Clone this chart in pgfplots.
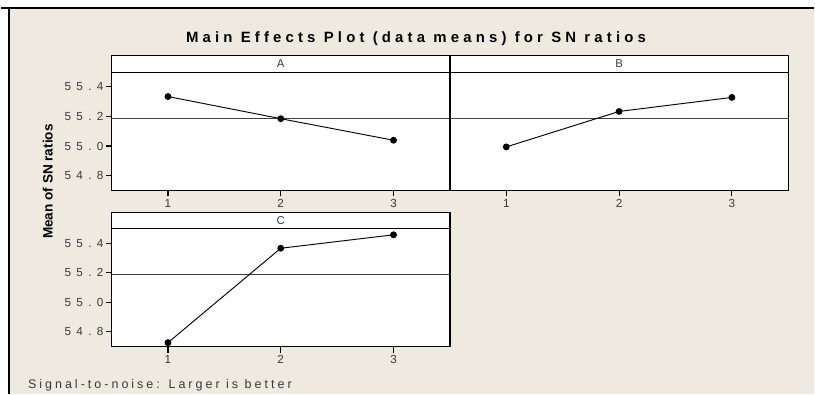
\documentclass[border=0pt]{standalone}
\usepackage{pgfplots}
\pgfplotsset{compat=1.18}
\usepackage{fontspec}
\setmainfont{Liberation Sans}
\newfontfamily\tickfont[LetterSpace=45]{Liberation Sans}
\newfontfamily\titlefont[LetterSpace=28]{Liberation Sans}
\newfontfamily\notefont[LetterSpace=24]{Liberation Sans}
\definecolor{bg}{HTML}{EEEAE0}
\definecolor{tickgray}{HTML}{3A3A3A}

\pgfplotstableread{
x y
1 55.335
2 55.185
3 55.039
}\dataA
\pgfplotstableread{
x y
1 54.994
2 55.234
3 55.329
}\dataB
\pgfplotstableread{
x y
1 54.727
2 55.366
3 55.457
}\dataC
\pgfplotstableread{
x y
0.5 55.186
3.5 55.186
}\meanline

\pgfplotsset{
  panel/.style={
    scale only axis, width=254.25pt, height=88.8pt,
    xmin=0.5, xmax=3.5, ymin=54.7, ymax=55.5,
    xtick={1,2,3}, ytick={54.8,55.0,55.2,55.4},
    tick align=outside, tick pos=left, major tick length=4.5pt,
    axis line style={line width=0.9pt, black},
    every tick/.style={line width=0.8pt, black},
    axis background/.style={fill=white},
    /pgf/number format/assume math mode=true,
    yticklabel style={/pgf/number format/.cd, fixed, fixed zerofill, precision=1, /tikz/.cd,
      font=\fontsize{8.8}{10}\selectfont\tickfont, text=tickgray, inner sep=1.5pt},
    xticklabel style={font=\fontsize{8.8}{10}\selectfont\tickfont, text=tickgray, inner sep=2pt},
    clip=false,
  },
  effect/.style={black, line width=0.7pt, mark=*, mark size=2.2pt, mark options={solid, fill=black}},
  mean/.style={black!75, line width=0.6pt, no marks},
}

\begin{document}
\begin{tikzpicture}
\begin{scope}[x=0.75pt, y=-0.75pt]
  \fill[white] (0,0) rectangle (815,395);
  \fill[bg] (8,8) rectangle (815,395);
  \draw[black, line width=1.2pt] (0,8) -- (815,8);
  \draw[black, line width=1.1pt] (8,8) -- (8,395);
  \node[anchor=base, font=\fontsize{11.2}{13}\selectfont\titlefont\bfseries] at (416,42.7)
    {Main Effects Plot (data means) for SN ratios};
  \node[rotate=90, font=\fontsize{10.2}{12}\selectfont\bfseries] at (47,182) {Mean of SN ratios};
  \node[anchor=base west, inner sep=0pt, font=\fontsize{9.4}{11}\selectfont\notefont, text=tickgray] at (27,389)
    {Signal-to-noise: Larger is better};
  % strips
  \draw[line width=0.9pt, fill=white] (111,56) rectangle (450,72.3);
  \node[font=\fontsize{8.5}{9}\selectfont, text=tickgray] at (280.5,64.2) {A};
  \draw[line width=0.9pt, fill=white] (450,56) rectangle (789,72.3);
  \node[font=\fontsize{8.5}{9}\selectfont, text=tickgray] at (619.5,64.2) {B};
  \draw[line width=0.9pt, fill=white] (111,212.8) rectangle (450,229);
  \node[font=\fontsize{8.5}{9}\selectfont, text=tickgray] at (280.5,221) {C};
\end{scope}

\begin{axis}[panel, anchor=south west, at={(83.25pt,-143.025pt)}]
  \addplot[mean] table {\meanline};
  \addplot[effect] table {\dataA};
\end{axis}
\begin{axis}[panel, anchor=south west, at={(337.5pt,-143.025pt)}, ytick=\empty]
  \addplot[mean] table {\meanline};
  \addplot[effect] table {\dataB};
\end{axis}
\begin{axis}[panel, anchor=south west, at={(83.25pt,-260.475pt)}]
  \addplot[mean] table {\meanline};
  \addplot[effect] table {\dataC};
\end{axis}
\end{tikzpicture}
\end{document}
